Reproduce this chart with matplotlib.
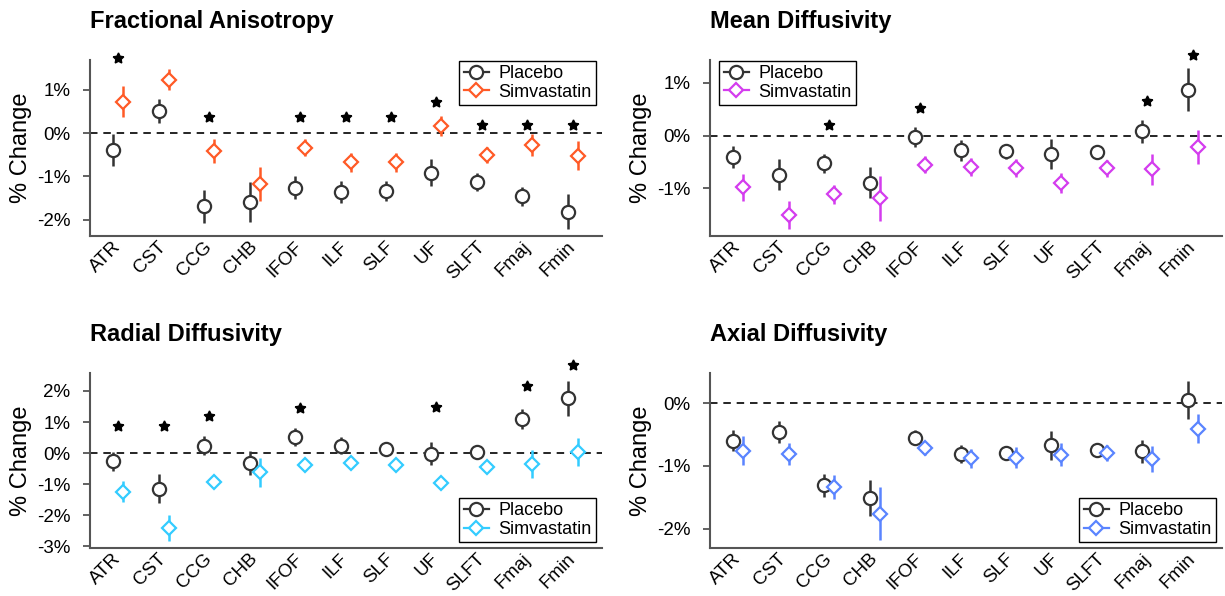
import numpy as np
import matplotlib
matplotlib.use("Agg")
import matplotlib.pyplot as plt
from matplotlib.lines import Line2D

plt.rcParams['font.family'] = ['Liberation Sans', 'DejaVu Sans']

tracts = ["ATR", "CST", "CCG", "CHB", "IFOF", "ILF", "SLF", "UF", "SLFT", "Fmaj", "Fmin"]

# Fractional Anisotropy
fa_pla = [-0.39, 0.51, -1.69, -1.58, -1.26, -1.35, -1.33, -0.91, -1.13, -1.46, -1.81]
fa_pla_err = [0.37, 0.28, 0.37, 0.46, 0.26, 0.25, 0.23, 0.31, 0.20, 0.22, 0.40]
fa_sim = [0.72, 1.23, -0.41, -1.17, -0.34, -0.67, -0.67, 0.16, -0.51, -0.28, -0.52]
fa_sim_err = [0.36, 0.25, 0.27, 0.39, 0.20, 0.22, 0.22, 0.23, 0.19, 0.26, 0.33]
fa_star = [1.72, None, 0.37, None, 0.37, 0.37, 0.37, 0.72, 0.18, 0.18, 0.18]

# Mean Diffusivity
md_pla = [-0.40, -0.74, -0.52, -0.89, -0.02, -0.28, -0.30, -0.35, -0.32, 0.08, 0.87]
md_pla_err = [0.21, 0.29, 0.18, 0.29, 0.19, 0.20, 0.14, 0.28, 0.13, 0.22, 0.40]
md_sim = [-0.98, -1.50, -1.11, -1.19, -0.55, -0.59, -0.61, -0.89, -0.62, -0.64, -0.21]
md_sim_err = [0.26, 0.26, 0.18, 0.42, 0.16, 0.17, 0.17, 0.19, 0.16, 0.30, 0.32]
md_star = [None, None, 0.20, None, 0.52, None, None, None, None, 0.66, 1.53]

# Radial Diffusivity
rd_pla = [-0.27, -1.15, 0.24, -0.32, 0.52, 0.24, 0.13, -0.02, 0.05, 1.10, 1.77]
rd_pla_err = [0.31, 0.46, 0.31, 0.38, 0.28, 0.27, 0.12, 0.37, 0.10, 0.32, 0.56]
rd_sim = [-1.24, -2.42, -0.92, -0.62, -0.38, -0.32, -0.38, -0.97, -0.45, -0.35, 0.03]
rd_sim_err = [0.34, 0.41, 0.22, 0.46, 0.10, 0.10, 0.10, 0.12, 0.12, 0.46, 0.46]
rd_star = [0.88, 0.88, 1.20, None, 1.45, None, None, 1.48, None, 2.17, 2.85]

# Axial Diffusivity
ad_pla = [-0.60, -0.46, -1.31, -1.51, -0.55, -0.81, -0.80, -0.67, -0.74, -0.77, 0.05]
ad_pla_err = [0.17, 0.18, 0.18, 0.29, 0.12, 0.15, 0.10, 0.23, 0.10, 0.18, 0.30]
ad_sim = [-0.76, -0.81, -1.34, -1.76, -0.72, -0.88, -0.87, -0.82, -0.80, -0.89, -0.41]
ad_sim_err = [0.23, 0.18, 0.19, 0.43, 0.10, 0.15, 0.17, 0.18, 0.13, 0.21, 0.23]
ad_star = [None] * 11

panels = [
    ("Fractional Anisotropy", fa_pla, fa_pla_err, fa_sim, fa_sim_err, fa_star,
     "#FF5A26", (-2.37, 1.68), [-2, -1, 0, 1], ("upper right", (0.988, 0.996))),
    ("Mean Diffusivity", md_pla, md_pla_err, md_sim, md_sim_err, md_star,
     "#D43CEE", (-1.90, 1.43), [-1, 0, 1], ("upper left", (0.018, 0.996))),
    ("Radial Diffusivity", rd_pla, rd_pla_err, rd_sim, rd_sim_err, rd_star,
     "#33CCFF", (-3.06, 2.58), [-3, -2, -1, 0, 1, 2], ("lower right", (0.988, 0.032))),
    ("Axial Diffusivity", ad_pla, ad_pla_err, ad_sim, ad_sim_err, ad_star,
     "#5A84FF", (-2.31, 0.48), [-2, -1, 0], ("lower right", (0.988, 0.032))),
]

# axes boxes in pixels (left, top, right, bottom)
boxes = [(90, 60, 602, 236), (710, 60, 1222, 236),
         (90, 373, 602, 548), (710, 373, 1222, 548)]

W, H = 1225, 596
fig = plt.figure(figsize=(W / 100, H / 100), dpi=100)

pla_color = "#333333"
x = np.arange(1, len(tracts) + 1)
off = 0.11

for (title, pla, pla_err, sim, sim_err, star, scol, ylim, yt, leg_pos), (l, t, r, b) in zip(panels, boxes):
    ax = fig.add_axes([l / W, 1 - b / H, (r - l) / W, (b - t) / H])
    ax.axhline(0, color="black", lw=1.2, ls=(0, (4.5, 3.5)), zorder=1)

    ax.errorbar(x - off, pla, yerr=pla_err, fmt="o", color=pla_color, ms=9.5,
                mfc="white", mec=pla_color, mew=1.6, elinewidth=1.8, capsize=0, zorder=3)
    ax.errorbar(x + off, sim, yerr=sim_err, fmt="D", color=scol, ms=7.2,
                mfc="white", mec=scol, mew=1.6, elinewidth=1.8, capsize=0, zorder=3)

    for xi, s in zip(x, star):
        if s is not None:
            ax.plot(xi, s, marker=(5, 1, 0), color="black", ms=8, ls="none",
                    clip_on=False, zorder=4)

    ax.set_xlim(0.38, 11.64)
    ax.set_ylim(*ylim)
    ax.set_yticks(yt)
    ax.set_yticklabels(["%d%%" % v for v in yt])
    ax.set_xticks(x)
    ax.set_xticklabels(tracts, rotation=45, ha="right", va="center", rotation_mode="anchor")
    ax.tick_params(axis="x", length=0, pad=6, labelsize=13.5)
    ax.tick_params(axis="y", direction="out", length=5, width=1.3, color="#555555",
                   labelsize=13.5, pad=9)

    for side in ("top", "right"):
        ax.spines[side].set_visible(False)
    for side in ("left", "bottom"):
        ax.spines[side].set_color("#555555")
        ax.spines[side].set_linewidth(1.5)

    ax.set_ylabel("% Change", fontsize=17, labelpad=4)
    ax.set_title(title, loc="left", fontsize=17, fontweight="bold", pad=23)

    handles = [
        Line2D([], [], color=pla_color, marker="o", ms=9.5, mfc="white", mew=1.6, lw=1.6),
        Line2D([], [], color=scol, marker="D", ms=7.2, mfc="white", mew=1.6, lw=1.6),
    ]
    leg = ax.legend(handles, ["Placebo", "Simvastatin"], loc=leg_pos[0],
                    bbox_to_anchor=leg_pos[1], fontsize=13,
                    frameon=True, fancybox=False, edgecolor="black", framealpha=1,
                    handlelength=1.4, handletextpad=0.5, borderpad=0.25,
                    labelspacing=0.08, borderaxespad=0.0)
    leg.get_frame().set_linewidth(1.0)

fig.savefig("out.png", dpi=100)
